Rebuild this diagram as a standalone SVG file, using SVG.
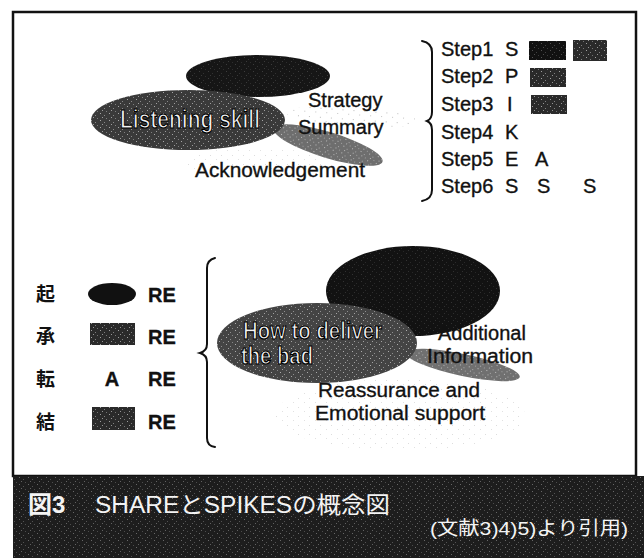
<svg xmlns="http://www.w3.org/2000/svg" width="644" height="558" viewBox="0 0 644 558">
<style>
.t { font-family: "Liberation Sans", Arial, sans-serif; font-size: 20px; fill: #111; stroke: #111; stroke-width: 0.35; }
.b { font-weight: bold; }
.cjk { font-family: "Noto Sans CJK JP", sans-serif; font-weight: bold; font-size: 19px; fill: #111; }
.ol { font-family: "Liberation Sans", Arial, sans-serif; font-weight: bold; fill: #f2f2f2; stroke: #000; stroke-width: 1.2; }
.cap { fill: #f4f4f4; font-family: "Liberation Sans", "Noto Sans CJK JP", sans-serif; }
.brace { fill: none; stroke: #111; stroke-width: 2; stroke-linecap: round; }
.spk { fill: url(#specks); }
.stp { fill: url(#stipple); }
</style>
<defs>
<pattern id="specks" width="9" height="7" patternUnits="userSpaceOnUse">
<rect x="1" y="1" width="1" height="1" fill="#fff" opacity="0.55"/>
<rect x="5" y="3" width="1" height="1" fill="#fff" opacity="0.4"/>
<rect x="3" y="5" width="1" height="1" fill="#fff" opacity="0.5"/>
<rect x="7" y="6" width="1" height="1" fill="#fff" opacity="0.35"/>
</pattern>
<pattern id="stipple" width="11" height="9" patternUnits="userSpaceOnUse">
<rect x="1" y="2" width="1" height="1" fill="#777"/>
<rect x="7" y="6" width="1" height="1" fill="#888"/>
</pattern>
</defs>

<!-- frame and caption band -->
<rect id="frame" x="13" y="12" width="623" height="464" fill="#fff" stroke="#111" stroke-width="2.5"/>
<g id="caption">
<rect x="13" y="476" width="631" height="82" fill="#1d1d1d"/>
<rect x="13" y="476" width="631" height="82" class="spk" opacity="0.6"/>
<text class="cap b" x="28" y="513" font-size="24">図3</text>
<text class="cap" x="95" y="513" font-size="23" textLength="295" lengthAdjust="spacingAndGlyphs">SHAREとSPIKESの概念図</text>
<text class="cap" x="430" y="535" font-size="19" textLength="198" lengthAdjust="spacingAndGlyphs">(文献3)4)5)より引用)</text>
</g>

<!-- ===== SPIKES (top) ===== -->
<g id="spikes-light-areas">
<ellipse cx="352" cy="117" rx="66" ry="10" transform="rotate(4 352 117)" class="stp" opacity="0.5"/>
<ellipse cx="255" cy="162" rx="70" ry="14" class="stp" opacity="0.25"/>
</g>
<g id="spikes-strategy-ellipse">
<ellipse cx="258" cy="76" rx="72" ry="21" fill="#161616"/>
<ellipse cx="258" cy="76" rx="72" ry="21" class="spk" opacity="0.3"/>
</g>
<g id="spikes-summary-shape">
<ellipse cx="328" cy="145" rx="57" ry="13" transform="rotate(17 328 145)" fill="#6e6e6e"/>
<ellipse cx="328" cy="145" rx="57" ry="13" transform="rotate(17 328 145)" class="spk"/>
</g>
<g id="spikes-listening">
<ellipse cx="188" cy="120" rx="97" ry="30" fill="#3a3a3a"/>
<ellipse cx="188" cy="120" rx="97" ry="30" class="spk"/>
<text class="ol" x="120" y="128" font-size="26" textLength="140" lengthAdjust="spacingAndGlyphs">Listening skill</text>
</g>
<g id="spikes-labels">
<text class="t" x="308" y="107">Strategy</text>
<text class="t" x="298" y="134">Summary</text>
<text class="t" x="195" y="177" textLength="170" lengthAdjust="spacingAndGlyphs">Acknowledgement</text>
</g>

<g id="steps">
<text class="t" x="441" y="56">Step1</text><text class="t" x="505" y="56">S</text>
<rect x="529" y="41" width="37" height="19" fill="#111"/>
<rect x="529" y="41" width="37" height="19" class="spk" opacity="0.5"/>
<rect x="573" y="40" width="34" height="21" fill="#2a2a2a"/>
<rect x="573" y="40" width="34" height="21" class="spk"/>
<text class="t" x="441" y="83">Step2</text><text class="t" x="505" y="83">P</text>
<rect x="530" y="68" width="36" height="19" fill="#2a2a2a"/>
<rect x="530" y="68" width="36" height="19" class="spk"/>
<text class="t" x="441" y="111">Step3</text><text class="t" x="507" y="111">I</text>
<rect x="531" y="95" width="36" height="19" fill="#2a2a2a"/>
<rect x="531" y="95" width="36" height="19" class="spk"/>
<text class="t" x="441" y="139">Step4</text><text class="t" x="505" y="139">K</text>
<text class="t" x="441" y="166">Step5</text><text class="t" x="505" y="166">E</text><text class="t" x="535" y="166">A</text>
<text class="t" x="441" y="193">Step6</text><text class="t" x="505" y="193">S</text><text class="t" x="537" y="193">S</text><text class="t" x="583" y="193">S</text>
</g>

<!-- ===== SHARE (bottom) ===== -->
<g id="share-rows">
<text class="cjk" x="36" y="301">起</text>
<ellipse cx="112" cy="294" rx="24" ry="11" fill="#111"/>
<text class="t b" x="148" y="302">RE</text>
<text class="cjk" x="36" y="343">承</text>
<rect x="90" y="323" width="45" height="22" fill="#2a2a2a"/>
<rect x="90" y="323" width="45" height="22" class="spk"/>
<text class="t b" x="148" y="344">RE</text>
<text class="cjk" x="36" y="386">転</text>
<text class="t b" x="112" y="386" text-anchor="middle">A</text>
<text class="t b" x="148" y="386">RE</text>
<text class="cjk" x="36" y="429">結</text>
<rect x="92" y="407" width="43" height="23" fill="#2a2a2a"/>
<rect x="92" y="407" width="43" height="23" class="spk"/>
<text class="t b" x="148" y="429">RE</text>
</g>

<g id="share-light-area">
<ellipse cx="400" cy="415" rx="125" ry="36" class="stp" opacity="0.25"/>
</g>
<g id="share-big-ellipse">
<ellipse cx="413" cy="291" rx="87" ry="45" fill="#121212"/>
<ellipse cx="413" cy="291" rx="87" ry="45" class="spk" opacity="0.25"/>
</g>
<g id="share-additional-shape">
<ellipse cx="463" cy="365" rx="58" ry="11" transform="rotate(12 463 365)" fill="#707070"/>
<ellipse cx="463" cy="365" rx="58" ry="11" transform="rotate(12 463 365)" class="spk"/>
</g>
<g id="share-deliver">
<ellipse cx="317" cy="343" rx="100" ry="40" fill="#444"/>
<ellipse cx="317" cy="343" rx="100" ry="40" class="spk"/>
<text class="ol" x="243" y="339" font-size="24" textLength="139" lengthAdjust="spacingAndGlyphs">How to deliver</text>
<text class="ol" x="241" y="364" font-size="24" textLength="72" lengthAdjust="spacingAndGlyphs">the bad</text>
</g>
<g id="share-labels">
<text class="t" x="438" y="340">Additional</text>
<text class="t" x="427" y="363" textLength="106" lengthAdjust="spacingAndGlyphs">Information</text>
<text class="t" x="318" y="397" textLength="162" lengthAdjust="spacingAndGlyphs">Reassurance and</text>
<text class="t" x="315" y="420" textLength="170" lengthAdjust="spacingAndGlyphs">Emotional support</text>
</g>

<g id="connectors">
<path class="brace" d="M422,41 Q432,43 432,52 L432,112 Q432,119 427,121 Q432,123 432,130 L432,190 Q432,199 422,201"/>
<path class="brace" d="M215,258 Q207,260 207,268 L207,344 Q207,351 200,353 Q207,355 207,362 L207,438 Q207,446 215,447"/>
</g>
</svg>
